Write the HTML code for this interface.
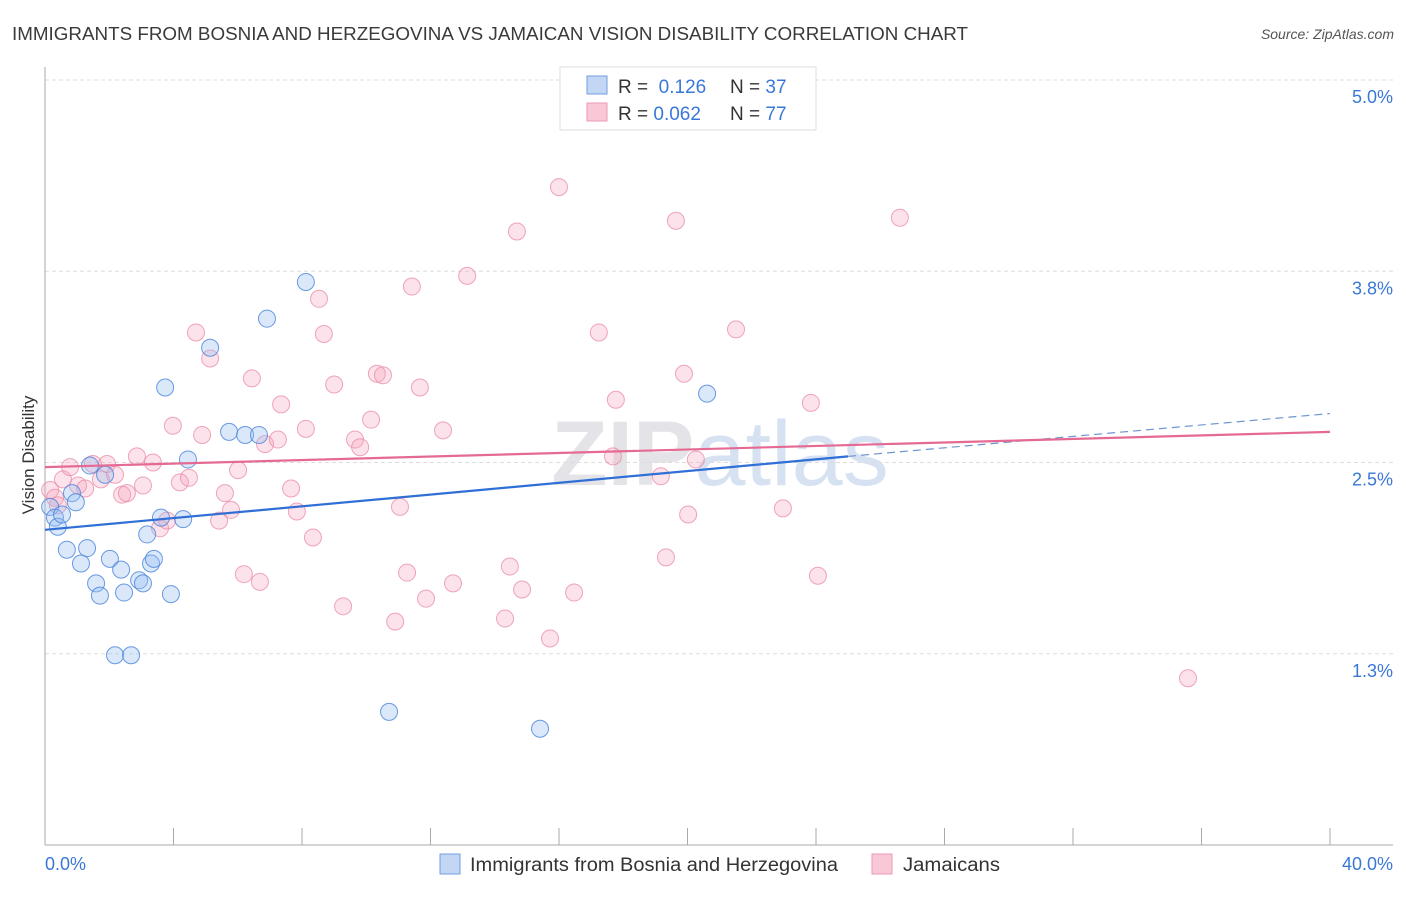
<!DOCTYPE html>
<html><head><meta charset="utf-8"><style>
body{margin:0;background:#fff;font-family:"Liberation Sans",sans-serif;}
svg text{font-family:"Liberation Sans",sans-serif;}
</style></head><body>
<svg id="chart" width="1406" height="892">
<text x="12" y="40" font-size="18" fill="#3a3a3a" textLength="956" lengthAdjust="spacingAndGlyphs">IMMIGRANTS FROM BOSNIA AND HERZEGOVINA VS JAMAICAN VISION DISABILITY CORRELATION CHART</text>
<text x="1394" y="39" font-size="14" fill="#555" font-style="italic" text-anchor="end">Source: ZipAtlas.com</text>
<text x="720" y="485" font-size="92" fill="#e4e4e8" text-anchor="middle" font-weight="bold" font-family="Liberation Serif">ZIP<tspan fill="#d6e2f2" font-weight="normal" font-family="Liberation Sans">atlas</tspan></text>
<g id="grid"></g>
<g id="axes"></g>
<g id="points"></g>
<g id="lines"></g>
<text transform="translate(34,455) rotate(-90)" font-size="17" fill="#333" text-anchor="middle">Vision Disability</text>
<g>
<rect x="560" y="67" width="256" height="63" fill="#fff" stroke="#ddd"/>
<rect x="587" y="76" width="20" height="18" fill="#c3d7f4" stroke="#6f9de0"/>
<rect x="587" y="103" width="20" height="18" fill="#f9c8d6" stroke="#ec9ab3"/>
<text x="618" y="93" font-size="19" fill="#333">R = <tspan fill="#3a78d8">&#160;0.126</tspan><tspan x="730">N = </tspan><tspan fill="#3a78d8">37</tspan></text>
<text x="618" y="120" font-size="19" fill="#333">R = <tspan fill="#3a78d8">0.062</tspan><tspan x="730">N = </tspan><tspan fill="#3a78d8">77</tspan></text>
</g>
<g>
<rect x="440" y="854" width="20" height="20" fill="#c3d7f4" stroke="#6f9de0"/>
<text x="470" y="871" font-size="19" fill="#333" textLength="368" lengthAdjust="spacingAndGlyphs">Immigrants from Bosnia and Herzegovina</text>
<rect x="872" y="854" width="20" height="20" fill="#f9c8d6" stroke="#ec9ab3"/>
<text x="903" y="871" font-size="19" fill="#333" textLength="97" lengthAdjust="spacingAndGlyphs">Jamaicans</text>
</g>
</svg>
<script>
const yTicks=[5.0,3.75,2.5,1.25];
const yTickLabels=["5.0%","3.8%","2.5%","1.3%"];
const xTicks=[0,4,8,12,16,20,24,28,32,36,40];
const blueX=[0.16,0.31,0.40,0.53,0.84,0.96,0.68,1.31,1.12,1.40,1.87,1.59,1.71,2.02,2.37,2.46,2.18,2.68,2.93,3.05,3.30,3.39,3.18,3.61,3.74,3.92,4.30,4.45,5.14,5.73,6.23,6.66,6.91,8.12,10.71,15.41,20.61];
const blueY=[2.21,2.14,2.08,2.16,2.30,2.24,1.93,1.94,1.84,2.48,2.42,1.71,1.63,1.87,1.80,1.65,1.24,1.24,1.73,1.71,1.84,1.87,2.03,2.14,2.99,1.64,2.13,2.52,3.25,2.70,2.68,2.68,3.44,3.68,0.87,0.76,2.95];
const pinkX=[0.16,0.31,0.40,0.56,0.78,1.03,1.25,1.49,1.74,1.93,2.18,2.40,2.55,2.86,3.05,3.36,3.58,3.80,3.98,4.20,4.48,4.70,4.89,5.14,5.42,5.60,5.79,6.01,6.19,6.44,6.69,6.85,7.25,7.35,7.66,7.84,8.12,8.34,8.53,8.68,9.00,9.28,9.65,9.81,10.15,10.33,10.52,10.90,11.05,11.27,11.42,11.67,11.86,12.39,12.70,13.14,14.32,14.47,14.69,14.85,15.72,16.00,16.47,17.24,17.68,17.77,19.17,19.33,19.64,19.89,20.02,20.26,21.51,22.97,23.84,24.06,26.61,35.58];
const pinkY=[2.32,2.27,2.22,2.39,2.47,2.35,2.33,2.49,2.39,2.49,2.42,2.29,2.30,2.54,2.35,2.50,2.07,2.12,2.74,2.37,2.40,3.35,2.68,3.18,2.12,2.30,2.19,2.45,1.77,3.05,1.72,2.62,2.65,2.88,2.33,2.18,2.72,2.01,3.57,3.34,3.01,1.56,2.65,2.60,2.78,3.08,3.07,1.46,2.21,1.78,3.65,2.99,1.61,2.71,1.71,3.72,1.48,1.82,4.01,1.67,1.35,4.30,1.65,3.35,2.54,2.91,2.41,1.88,4.08,3.08,2.16,2.52,3.37,2.20,2.89,1.76,4.10,1.09];
const blueTrend=[[0,2.06],[25,2.54]];
const blueTrendExt=[[25,2.54],[40,2.82]];
const pinkTrend=[[0,2.47],[40,2.70]];
const NS="http://www.w3.org/2000/svg";
const sx=v=>45+v/40*1285;
const sy=v=>845-v/5*765;
function mk(tag,attrs,parent){const e=document.createElementNS(NS,tag);for(const k in attrs)e.setAttribute(k,attrs[k]);document.getElementById(parent).appendChild(e);return e;}
yTicks.forEach((t,i)=>{
 const g=mk('line',{x1:45,x2:1393,y1:sy(t),y2:sy(t),stroke:'#ddd','stroke-dasharray':'4,3'},'grid');
 
 
 const l=mk('text',{x:1393,y:sy(t)+23,'font-size':18,fill:'#3a78d8','text-anchor':'end'},'grid');
 l.textContent=yTickLabels[i];
 
 
});
const ya=mk('line',{x1:45,x2:45,y1:67,y2:845,stroke:'#aaa'},'axes');


const xa=mk('line',{x1:45,x2:1393,y1:845,y2:845,stroke:'#aaa'},'axes');


xTicks.forEach(t=>{
 const tk=mk('line',{x1:sx(t),x2:sx(t),y1:828,y2:845,stroke:'#aaa'},'axes');
 
 
});
const xl0=mk('text',{x:45,y:870,'font-size':18,fill:'#3a78d8'},'axes');xl0.textContent='0.0%';


const xl1=mk('text',{x:1393,y:870,'font-size':18,fill:'#3a78d8','text-anchor':'end'},'axes');xl1.textContent='40.0%';


pinkX.forEach((x,i)=>{
 const c=mk('circle',{cx:sx(x),cy:sy(pinkY[i]),r:8.5,fill:'rgba(244,160,185,0.3)',stroke:'rgba(232,130,160,0.7)','stroke-width':1},'points');
 
 
});
blueX.forEach((x,i)=>{
 const c=mk('circle',{cx:sx(x),cy:sy(blueY[i]),r:8.5,fill:'rgba(150,190,240,0.35)',stroke:'rgba(70,130,220,0.8)','stroke-width':1},'points');
 
 
});
const bl=mk('line',{x1:sx(blueTrend[0][0]),y1:sy(blueTrend[0][1]),x2:sx(blueTrend[1][0]),y2:sy(blueTrend[1][1]),stroke:'#2f6fd6','stroke-width':2.2},'lines');


const bd=mk('line',{x1:sx(blueTrendExt[0][0]),y1:sy(blueTrendExt[0][1]),x2:sx(blueTrendExt[1][0]),y2:sy(blueTrendExt[1][1]),stroke:'#6f95d0','stroke-width':1.2,'stroke-dasharray':'8,5'},'lines');


const pl=mk('line',{x1:sx(pinkTrend[0][0]),y1:sy(pinkTrend[0][1]),x2:sx(pinkTrend[1][0]),y2:sy(pinkTrend[1][1]),stroke:'#e56a93','stroke-width':2.2},'lines');


</script>
</body></html>
